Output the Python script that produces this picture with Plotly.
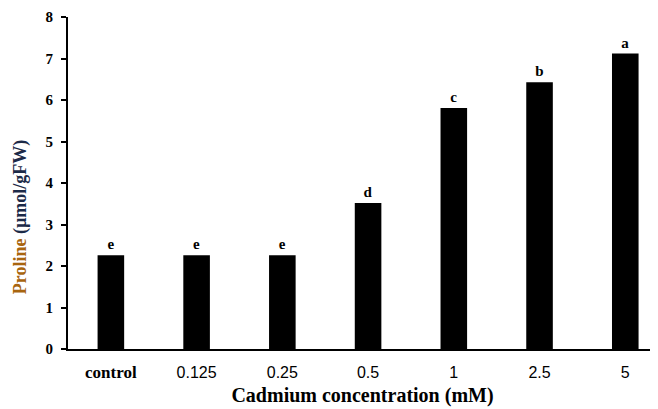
import plotly.graph_objects as go

categories = ["control", "0.125", "0.25", "0.5", "1", "2.5", "5"]
proline = [2.26, 2.26, 2.26, 3.52, 5.81, 6.43, 7.12]
letters = ["e", "e", "e", "d", "c", "b", "a"]
y_ticks = [0, 1, 2, 3, 4, 5, 6, 7, 8]

serif = "Liberation Serif, Times New Roman, serif"
sans = "Liberation Sans, Arial, sans-serif"

ticktext = []
for c in categories:
    if c == "control":
        ticktext.append('<b><span style="font-size:17px;">' + c + "</span></b>")
    else:
        ticktext.append('<span style="font-family:' + sans + ';">' + c + "</span>")

fig = go.Figure()
fig.add_trace(go.Bar(
    x=list(range(len(categories))),
    y=proline,
    width=0.31,
    marker=dict(color="black", line=dict(width=0)),
    text=["<b>" + t + "</b>" for t in letters],
    textposition="outside",
    textfont=dict(family=serif, size=15, color="black"),
    cliponaxis=False,
))

# page body has an 8px margin, so the figure is sized/offset to fit the 658x409 window
fig.update_layout(
    width=650, height=401,
    margin=dict(l=60, r=1, t=9, b=60, autoexpand=False),
    paper_bgcolor="white", plot_bgcolor="white",
    showlegend=False,
    font=dict(family=serif, color="black"),
    xaxis=dict(
        range=[-0.5, 6.37],
        automargin=False,
        tickmode="array",
        tickvals=list(range(len(categories))),
        ticktext=ticktext,
        tickfont=dict(family=serif, size=16, color="black"),
        showline=True, linecolor="black", linewidth=2,
        ticks="", showgrid=False, zeroline=False,
        ticklabelstandoff=8,
        title=dict(text="<b>Cadmium concentration (mM)</b>",
                   font=dict(family=serif, size=20, color="black"),
                   standoff=7),
    ),
    yaxis=dict(
        range=[0, 8],
        automargin=False,
        tickmode="array",
        tickvals=y_ticks,
        ticktext=["<b>%d</b>" % v for v in y_ticks],
        tickfont=dict(family=serif, size=15, color="black"),
        showline=True, linecolor="black", linewidth=2,
        ticks="outside", ticklen=5, tickwidth=2, tickcolor="black",
        ticklabelstandoff=5,
        showgrid=False, zeroline=False,
    ),
    annotations=[dict(
        text='<b><span style="color:#a8650f;">Proline</span> <span style="color:#1c2a48;">(µmol/gFW)</span></b>',
        font=dict(family=serif, size=18),
        textangle=-90,
        xref="paper", yref="paper",
        x=-0.0815, y=0.40,
        xanchor="center", yanchor="middle",
        showarrow=False,
    )],
)

fig.write_html("out.html")
